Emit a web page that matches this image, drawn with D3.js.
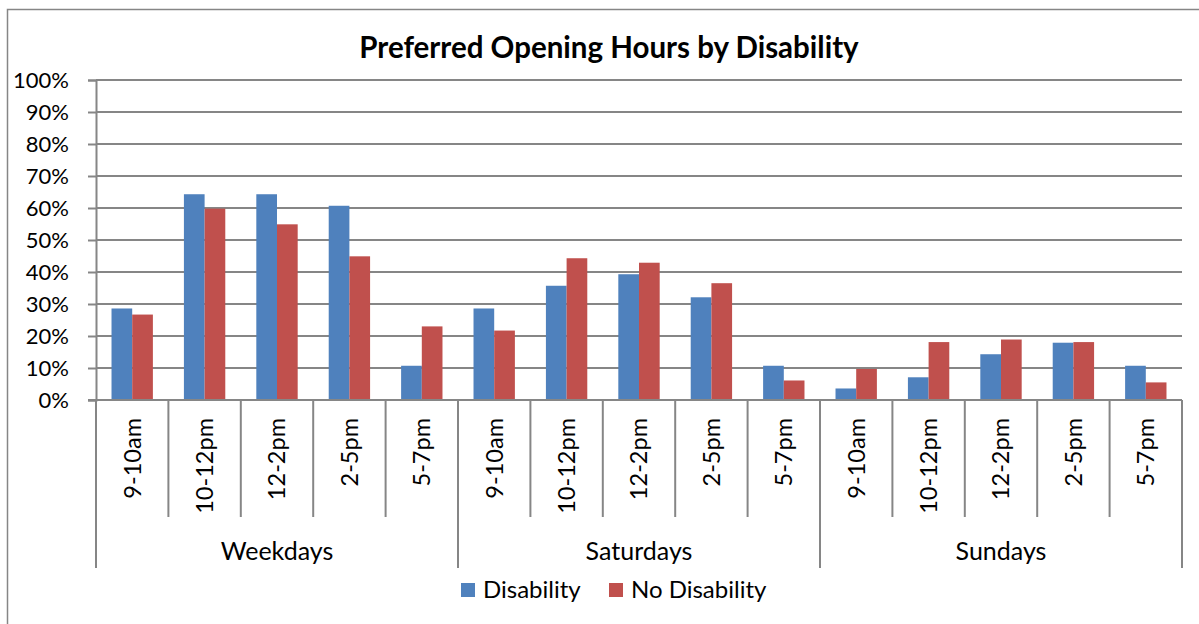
<!DOCTYPE html>
<html><head><meta charset="utf-8">
<script src="https://cdn.jsdelivr.net/npm/d3@7"></script>
<style>
html,body{margin:0;padding:0;background:#fff;}
svg{display:block;}
text{font-family:Lato, "Open Sans", sans-serif;fill:#000;}
</style></head>
<body>
<svg id="chart" width="1199" height="624"></svg>
<script>
const groups = ["Weekdays", "Saturdays", "Sundays"];
const hours = ["9-10am", "10-12pm", "12-2pm", "2-5pm", "5-7pm"];
const seriesNames = ["Disability", "No Disability"];
const disability = [0.286, 0.643, 0.643, 0.607, 0.107,
                    0.286, 0.357, 0.393, 0.321, 0.107,
                    0.036, 0.071, 0.143, 0.179, 0.107];
const noDisability = [0.267, 0.598, 0.549, 0.449, 0.230,
                      0.217, 0.443, 0.429, 0.365, 0.061,
                      0.097, 0.181, 0.189, 0.181, 0.055];
const yTicks = [0, 0.1, 0.2, 0.3, 0.4, 0.5, 0.6, 0.7, 0.8, 0.9, 1.0];
const colors = ["#4F81BD", "#C0504D"];
const title = "Preferred Opening Hours by Disability";

(function () {
const svg = d3.select("#chart");
const pLeft = 96, pRight = 1182, pTop = 80, pBottom = 400;
const gridColor = "#868686";

// border
svg.append("rect").attr("x", 7.5).attr("y", 9.5).attr("width", 1230).attr("height", 700)
  .attr("fill", "none").attr("stroke", gridColor).attr("stroke-width", 1.5);

const cats = [];
groups.forEach((g, gi) => hours.forEach((h, hi) => cats.push({g, gi, h, key: g + "|" + h})));
const values = cats.map((c, i) => [disability[i], noDisability[i]]);

const x0 = d3.scaleBand().domain(cats.map(c => c.key)).range([pLeft, pRight]).padding(0);
const x1 = d3.scaleBand().domain(seriesNames).range([0, x0.bandwidth()]).paddingInner(0).paddingOuter(0.75);
const y = d3.scaleLinear().domain([0, 1]).range([pBottom, pTop]);

// y axis
const yAxis = d3.axisLeft(y).tickValues(yTicks).tickFormat(d3.format(".0%")).tickSize(8).tickPadding(19);
const yg = svg.append("g").attr("transform", `translate(${pLeft},0)`).call(yAxis);
yg.select(".domain").attr("stroke", gridColor).attr("stroke-width", 2);
yg.selectAll(".tick line").attr("stroke", gridColor).attr("stroke-width", 2);
yg.selectAll(".tick text").attr("font-size", 22).attr("font-family", "Lato").attr("fill", "#000").attr("dy", "0.36em");
svg.append("g").selectAll("line").data(yTicks).join("line")
  .attr("x1", pLeft).attr("x2", pRight).attr("y1", d => y(d)).attr("y2", d => y(d))
  .attr("stroke", gridColor).attr("stroke-width", 2);

// bars
const bars = svg.append("g");
cats.forEach((c, i) => {
  seriesNames.forEach((s, si) => {
    bars.append("rect")
      .attr("x", x0(c.key) + x1(s))
      .attr("y", y(values[i][si]))
      .attr("width", x1.bandwidth())
      .attr("height", y(0) - y(values[i][si]))
      .attr("fill", colors[si]);
  });
});

// category axis
const xg = svg.append("g");
const catBounds = d3.range(cats.length + 1).map(i => pLeft + i * x0.step());
xg.selectAll("line.sep").data(catBounds).join("line")
  .attr("x1", d => d).attr("x2", d => d)
  .attr("y1", pBottom).attr("y2", (d, i) => (i % hours.length === 0) ? 568 : 517)
  .attr("stroke", gridColor).attr("stroke-width", 2);
xg.append("line").attr("x1", pLeft - 8).attr("x2", pRight).attr("y1", pBottom).attr("y2", pBottom)
  .attr("stroke", gridColor).attr("stroke-width", 2);
xg.selectAll("text.cat").data(cats).join("text")
  .attr("transform", d => `translate(${x0(d.key) + x0.bandwidth() / 2},418) rotate(-90)`)
  .attr("text-anchor", "end").attr("dy", "0.36em").attr("font-size", 23.5)
  .text(d => d.h);
xg.selectAll("text.grp").data(groups).join("text")
  .attr("x", (d, gi) => pLeft + (gi + 0.5) * hours.length * x0.step())
  .attr("y", 560).attr("text-anchor", "middle").attr("font-size", 25)
  .text(d => d);

// title
svg.append("text").attr("x", 609).attr("y", 58).attr("text-anchor", "middle")
  .attr("font-size", 29.5).attr("font-weight", "bold").text(title);

// legend
const legendX = [461, 609];
const lg = svg.append("g");
seriesNames.forEach((s, si) => {
  lg.append("rect").attr("x", legendX[si]).attr("y", 583).attr("width", 14).attr("height", 14).attr("fill", colors[si]);
  lg.append("text").attr("x", legendX[si] + 22).attr("y", 598).attr("font-size", 24).text(s);
});
})();
</script>
</body></html>
